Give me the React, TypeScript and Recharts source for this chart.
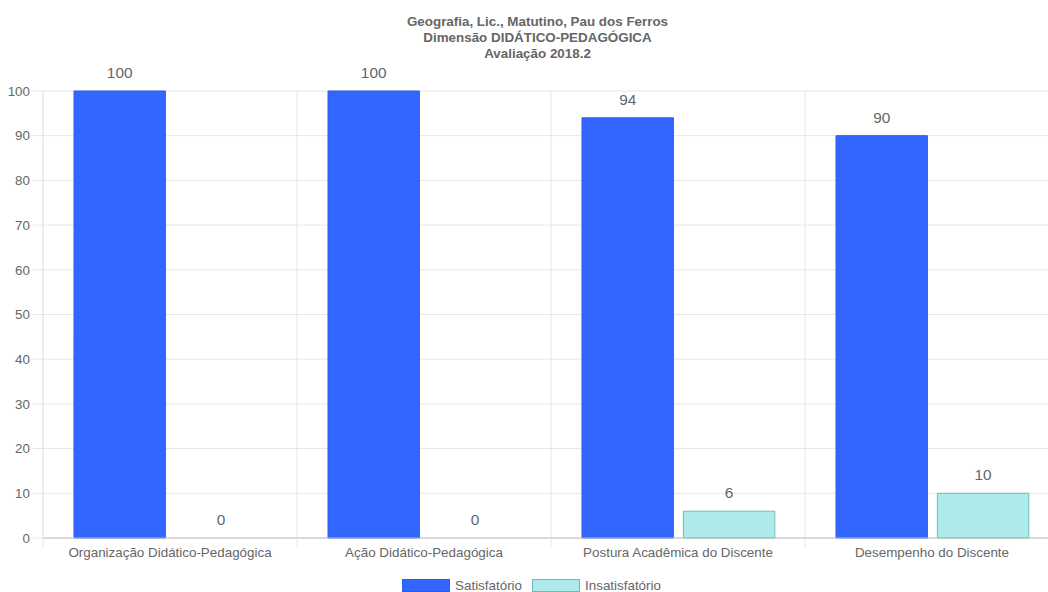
import React from "react";
import { BarChart, Bar, XAxis, YAxis, CartesianGrid, Legend, Rectangle } from "recharts";

// Dimension categories and evaluation results (percent)
const categories = [
  "Organização Didático-Pedagógica",
  "Ação Didático-Pedagógica",
  "Postura Acadêmica do Discente",
  "Desempenho do Discente",
];
const satisfatorio = [100, 100, 94, 90];
const insatisfatorio = [0, 0, 6, 10];
const yTicks = [0, 10, 20, 30, 40, 50, 60, 70, 80, 90, 100];
const titleLines = [
  "Geografia, Lic., Matutino, Pau dos Ferros",
  "Dimensão DIDÁTICO-PEDAGÓGICA",
  "Avaliação 2018.2",
];
const seriesNames = ["Satisfatório", "Insatisfatório"];

const data = categories.map((name, i) => ({
  name,
  satisfatorio: satisfatorio[i],
  insatisfatorio: insatisfatorio[i],
}));

const FONT = "'Liberation Sans', Arial, Helvetica, sans-serif";
const TEXT = "#666";
const GRID = "#e6e6e6";
const ZERO = "#bfbfbf";
const BLUE = "#3366ff";
const BLUE_BORDER = "#2b5cf0";
const CYAN = "#afeaea";
const CYAN_BORDER = "#6dbcb8";

const CHART_W = 1075;
const CHART_H = 592;

// Category label plus the short separator ticks at the band edges
const CategoryTick = (props: any) => {
  const { x, y, payload, width, visibleTicksCount, index } = props;
  const half = width / visibleTicksCount / 2;
  const axisY = y - 10;
  return (
    <g>
      <line x1={x - half} x2={x - half} y1={axisY} y2={axisY + 10} stroke={GRID} />
      {index === visibleTicksCount - 1 && (
        <line x1={x + half} x2={x + half} y1={axisY} y2={axisY + 10} stroke={GRID} />
      )}
      <text x={x} y={y + 9} textAnchor="middle" fill={TEXT} fontSize={13.4} fontFamily={FONT}>
        {payload.value}
      </text>
    </g>
  );
};

// Bar body with its value printed above it (zero-height bars still get a label)
const LabeledBar = (props: any) => {
  const { x, y, width, height, fill, stroke, value } = props;
  const v = Array.isArray(value) ? value[value.length - 1] : value;
  return (
    <g>
      {height > 0 && (
        <Rectangle x={x} y={y} width={width} height={height} fill={fill} stroke={stroke} strokeWidth={1} />
      )}
      <text
        x={x + width / 2}
        y={y - 13}
        textAnchor="middle"
        fill={TEXT}
        fontSize={15.4}
        fontFamily={FONT}
      >
        {String(v)}
      </text>
    </g>
  );
};

const LegendContent = () => {
  const items = [
    { name: seriesNames[0], fill: BLUE, stroke: BLUE_BORDER },
    { name: seriesNames[1], fill: CYAN, stroke: CYAN_BORDER },
  ];
  return (
    <div
      style={{
        display: "flex",
        justifyContent: "center",
        paddingTop: 3,
        paddingLeft: 14,
        fontFamily: FONT,
        fontSize: 13.4,
        color: TEXT,
      }}
    >
      {items.map((it) => (
        <div key={it.name} style={{ display: "flex", alignItems: "center", marginRight: 10 }}>
          <span
            style={{
              display: "inline-block",
              width: 46,
              height: 11,
              background: it.fill,
              border: `1px solid ${it.stroke}`,
              marginRight: 5,
            }}
          />
          <span style={{ lineHeight: "13px" }}>{it.name}</span>
        </div>
      ))}
    </div>
  );
};

export default function App() {
  return (
    <div
      style={{
        position: "fixed",
        left: 0,
        top: 0,
        width: 1048,
        height: 592,
        overflow: "hidden",
        background: "#fff",
      }}
    >
      <div
        style={{
          position: "absolute",
          left: 0,
          top: 14,
          width: CHART_W,
          textAlign: "center",
          fontFamily: FONT,
          fontWeight: "bold",
          fontSize: 13.4,
          lineHeight: "16px",
          color: TEXT,
          zIndex: 1,
        }}
      >
        {titleLines.map((t) => (
          <div key={t}>{t}</div>
        ))}
      </div>
      <BarChart
        width={CHART_W}
        height={CHART_H}
        data={data}
        margin={{ top: 91, right: 16, bottom: 0, left: 0 }}
        barGap={10}
        barSize={91.4}
      >
        <CartesianGrid
          stroke={GRID}
          vertical
          horizontal
          verticalCoordinatesGenerator={({ offset }: any) =>
            categories.map((_, i) => offset.left + (offset.width / categories.length) * i).concat([
              offset.left + offset.width,
            ])
          }
        />
        <XAxis
          dataKey="name"
          height={38}
          interval={0}
          tickLine={false}
          tickSize={10}
          tickMargin={0}
          axisLine={{ stroke: ZERO }}
          tick={<CategoryTick />}
        />
        <YAxis
          width={43}
          domain={[0, 100]}
          ticks={yTicks}
          interval={0}
          tickSize={10}
          tickMargin={3}
          axisLine={{ stroke: GRID }}
          tickLine={{ stroke: GRID }}
          tick={{ fill: TEXT, fontSize: 13.4, fontFamily: FONT }}
        />
        <Legend verticalAlign="bottom" height={16} content={<LegendContent />} />
        <Bar
          dataKey="satisfatorio"
          name={seriesNames[0]}
          fill={BLUE}
          stroke={BLUE_BORDER}
          strokeWidth={1}
          shape={<LabeledBar />}
          isAnimationActive={false}
        />
        <Bar
          dataKey="insatisfatorio"
          name={seriesNames[1]}
          fill={CYAN}
          stroke={CYAN_BORDER}
          strokeWidth={1}
          shape={<LabeledBar />}
          isAnimationActive={false}
        />
      </BarChart>
    </div>
  );
}
